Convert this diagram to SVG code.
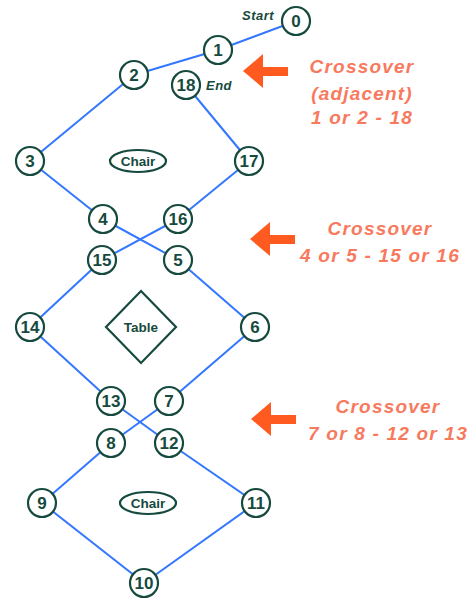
<svg xmlns="http://www.w3.org/2000/svg" width="476" height="599" viewBox="0 0 476 599">
<style>
.n circle{fill:#fff;stroke:#164a3e;stroke-width:2.2}
.n text,.lbl{font-family:"Liberation Sans",Arial,sans-serif;font-weight:bold;fill:#164a3e;text-anchor:middle}
.n text{font-size:17px}
.edges line{stroke:#3377ff;stroke-width:2}
.shape{fill:#fff;stroke:#164a3e;stroke-width:2.2}
.lbl{font-size:13.5px}
.it{font-family:"Liberation Sans",Arial,sans-serif;font-weight:bold;font-style:italic;fill:#164a3e;font-size:13px;letter-spacing:0.5px}
.cx{font-family:"Liberation Sans",Arial,sans-serif;font-weight:bold;font-style:italic;fill:#f77a5e;font-size:19px;letter-spacing:1.2px;text-anchor:middle}
.arr{fill:#ff5a1f}
</style>
<rect width="476" height="599" fill="#fff"/>
<g class="edges">
<line x1="296" y1="21" x2="218" y2="50"/>
<line x1="218" y1="50" x2="134" y2="75"/>
<line x1="134" y1="75" x2="30" y2="161"/>
<line x1="30" y1="161" x2="103" y2="219"/>
<line x1="103" y1="219" x2="178" y2="260"/>
<line x1="178" y1="260" x2="255" y2="327"/>
<line x1="255" y1="327" x2="169" y2="401"/>
<line x1="169" y1="401" x2="111" y2="443"/>
<line x1="111" y1="443" x2="42" y2="503"/>
<line x1="42" y1="503" x2="144" y2="583"/>
<line x1="144" y1="583" x2="256" y2="503"/>
<line x1="256" y1="503" x2="169" y2="443"/>
<line x1="169" y1="443" x2="111" y2="401"/>
<line x1="111" y1="401" x2="30" y2="327"/>
<line x1="30" y1="327" x2="102" y2="260"/>
<line x1="102" y1="260" x2="178" y2="219"/>
<line x1="178" y1="219" x2="249" y2="161"/>
<line x1="249" y1="161" x2="186" y2="85"/>
</g>
<g id="n0" class="n"><circle cx="296" cy="21" r="14"/><text x="296" y="27">0</text></g>
<g id="n1" class="n"><circle cx="218" cy="50" r="14"/><text x="218" y="56">1</text></g>
<g id="n2" class="n"><circle cx="134" cy="75" r="14"/><text x="134" y="81">2</text></g>
<g id="n18" class="n"><circle cx="186" cy="85" r="14"/><text x="186" y="91">18</text></g>
<g id="n3" class="n"><circle cx="30" cy="161" r="14"/><text x="30" y="167">3</text></g>
<g id="n17" class="n"><circle cx="249" cy="161" r="14"/><text x="249" y="167">17</text></g>
<g id="n4" class="n"><circle cx="103" cy="219" r="14"/><text x="103" y="225">4</text></g>
<g id="n16" class="n"><circle cx="178" cy="219" r="14"/><text x="178" y="225">16</text></g>
<g id="n15" class="n"><circle cx="102" cy="260" r="14"/><text x="102" y="266">15</text></g>
<g id="n5" class="n"><circle cx="178" cy="260" r="14"/><text x="178" y="266">5</text></g>
<g id="n14" class="n"><circle cx="30" cy="327" r="14"/><text x="30" y="333">14</text></g>
<g id="n6" class="n"><circle cx="255" cy="327" r="14"/><text x="255" y="333">6</text></g>
<g id="n13" class="n"><circle cx="111" cy="401" r="14"/><text x="111" y="407">13</text></g>
<g id="n7" class="n"><circle cx="169" cy="401" r="14"/><text x="169" y="407">7</text></g>
<g id="n8" class="n"><circle cx="111" cy="443" r="14"/><text x="111" y="449">8</text></g>
<g id="n12" class="n"><circle cx="169" cy="443" r="14"/><text x="169" y="449">12</text></g>
<g id="n9" class="n"><circle cx="42" cy="503" r="14"/><text x="42" y="509">9</text></g>
<g id="n11" class="n"><circle cx="256" cy="503" r="14"/><text x="256" y="509">11</text></g>
<g id="n10" class="n"><circle cx="144" cy="583" r="14"/><text x="144" y="589">10</text></g>
<g id="chair1"><ellipse class="shape" cx="138" cy="161" rx="28" ry="11"/><text class="lbl" x="138" y="166">Chair</text></g>
<g id="table"><polygon class="shape" points="141,291 176,327 141,363 106,327"/><text class="lbl" x="141" y="332">Table</text></g>
<g id="chair2"><ellipse class="shape" cx="148" cy="503" rx="28" ry="11"/><text class="lbl" x="148" y="508">Chair</text></g>
<text class="it" x="242" y="20">Start</text>
<text class="it" x="206" y="90">End</text>
<g id="arrow1"><polygon class="arr" points="243,71 263,54 263,67 288,67 288,76 263,76 263,88"/></g>
<g id="arrow2"><polygon class="arr" points="250,239 270,222 270,235 295,235 295,244 270,244 270,256"/></g>
<g id="arrow3"><polygon class="arr" points="251,419 271,402 271,415 296,415 296,424 271,424 271,436"/></g>
<g id="note1"><text class="cx" x="362" y="73">Crossover</text><text class="cx" x="362" y="100">(adjacent)</text><text class="cx" x="362" y="124">1 or 2 - 18</text></g>
<g id="note2"><text class="cx" x="380" y="235">Crossover</text><text class="cx" x="380" y="262">4 or 5 - 15 or 16</text></g>
<g id="note3"><text class="cx" x="388" y="413">Crossover</text><text class="cx" x="388" y="440">7 or 8 - 12 or 13</text></g>
</svg>
